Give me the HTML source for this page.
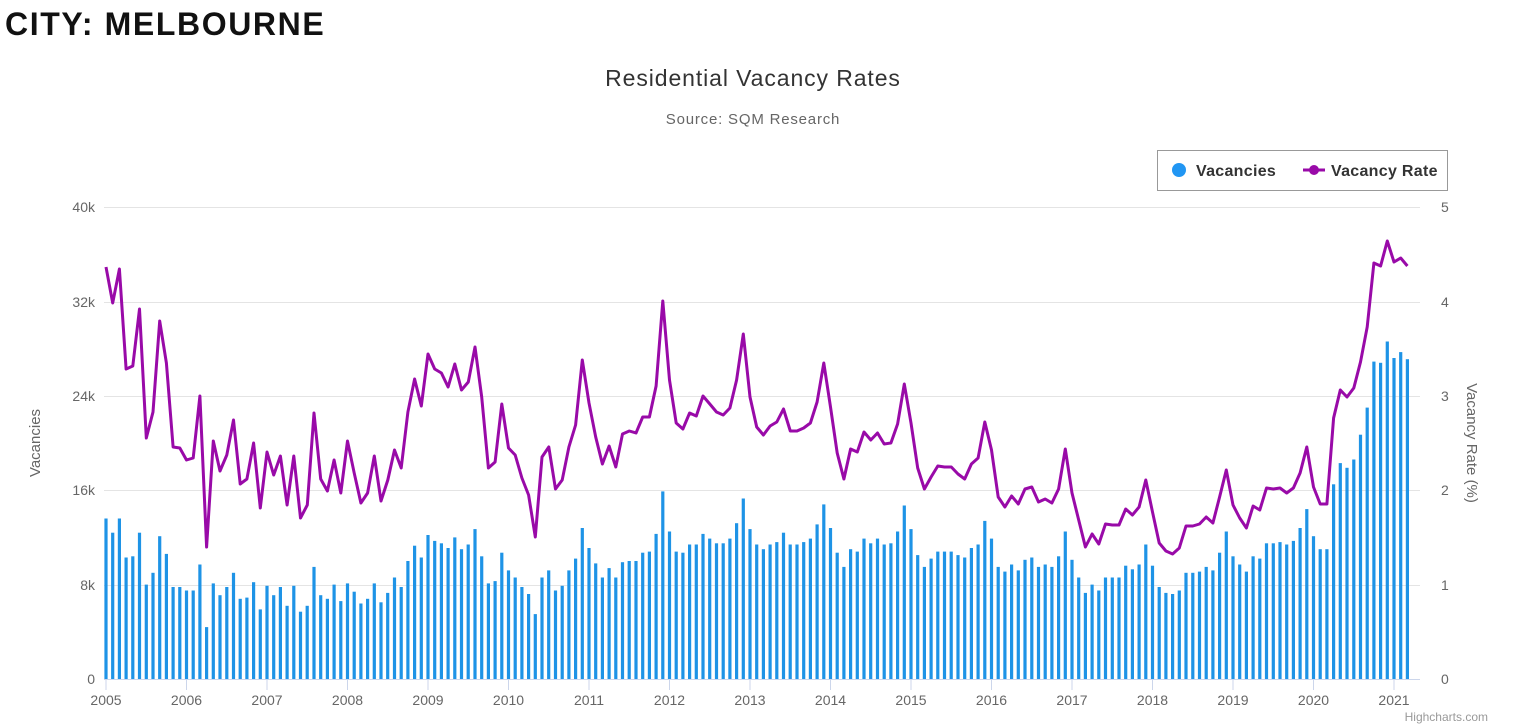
<!DOCTYPE html>
<html><head><meta charset="utf-8">
<style>
html,body{margin:0;padding:0;background:#fff;}
body{width:1536px;height:727px;overflow:hidden;position:relative;font-family:"Liberation Sans",sans-serif;}
</style></head>
<body>
<svg id="c" width="1536" height="727" xmlns="http://www.w3.org/2000/svg" style="position:absolute;left:0;top:0">
<text x="5" y="35" font-size="32" font-weight="bold" fill="#111" letter-spacing="1.6" font-family="Liberation Sans, sans-serif">CITY: MELBOURNE</text>
<text x="753" y="86" font-size="23" fill="#333" text-anchor="middle" letter-spacing="0.9">Residential Vacancy Rates</text>
<text x="753" y="124" font-size="15" fill="#666" text-anchor="middle" letter-spacing="0.8">Source: SQM Research</text>
<rect x="1157.5" y="150.5" width="290" height="40" fill="#fff" stroke="#999" stroke-width="1"/>
<circle cx="1179" cy="170" r="7" fill="#2196f3"/>
<text x="1196" y="176" font-size="16" font-weight="bold" fill="#333" letter-spacing="0.3">Vacancies</text>
<line x1="1303" y1="170" x2="1325" y2="170" stroke="#990aa8" stroke-width="3"/>
<circle cx="1314" cy="170" r="5" fill="#990aa8"/>
<text x="1331" y="176" font-size="16" font-weight="bold" fill="#333" letter-spacing="0.3">Vacancy Rate</text>
<g stroke="#e4e4e4" stroke-width="1">
<line x1="104" y1="207.5" x2="1420" y2="207.5"/>
<line x1="104" y1="302.5" x2="1420" y2="302.5"/>
<line x1="104" y1="396.5" x2="1420" y2="396.5"/>
<line x1="104" y1="490.5" x2="1420" y2="490.5"/>
<line x1="104" y1="585.5" x2="1420" y2="585.5"/>
</g>
<line x1="104" y1="679.5" x2="1420" y2="679.5" stroke="#ccd6eb" stroke-width="1"/>
<g font-size="14" fill="#666" text-anchor="end">
<text x="95" y="212">40k</text><text x="95" y="307">32k</text><text x="95" y="401">24k</text>
<text x="95" y="495">16k</text><text x="95" y="590">8k</text><text x="95" y="684">0</text>
</g>
<g font-size="14" fill="#666">
<text x="1441" y="212">5</text><text x="1441" y="307">4</text><text x="1441" y="401">3</text>
<text x="1441" y="495">2</text><text x="1441" y="590">1</text><text x="1441" y="684">0</text>
</g>
<text transform="translate(40,443) rotate(-90)" font-size="15" fill="#666" text-anchor="middle">Vacancies</text>
<text transform="translate(1467,443) rotate(90)" font-size="15" fill="#666" text-anchor="middle">Vacancy Rate (%)</text>
<g id="xl" font-size="14" fill="#666" text-anchor="middle"></g>
<g id="bars" fill="#1e93e6"></g>
<polyline id="ln" fill="none" stroke="#990aa8" stroke-width="3" stroke-linejoin="round"/>
<text x="1488" y="721" font-size="12" fill="#999" text-anchor="end">Highcharts.com</text>
</svg>
<script>
var k=[13.6,12.4,13.6,10.3,10.4,12.4,8.0,9.0,12.1,10.6,7.8,7.8,
7.5,7.5,9.7,4.4,8.1,7.1,7.8,9.0,6.8,6.9,8.2,5.9,
7.9,7.1,7.8,6.2,7.9,5.7,6.2,9.5,7.1,6.8,8.0,6.6,
8.1,7.4,6.4,6.8,8.1,6.5,7.3,8.6,7.8,10.0,11.3,10.3,
12.2,11.7,11.5,11.1,12.0,11.0,11.4,12.7,10.4,8.1,8.3,10.7,
9.2,8.6,7.8,7.2,5.5,8.6,9.2,7.5,7.9,9.2,10.2,12.8,
11.1,9.8,8.6,9.4,8.6,9.9,10.0,10.0,10.7,10.8,12.3,15.9,
12.5,10.8,10.7,11.4,11.4,12.3,11.9,11.5,11.5,11.9,13.2,15.3,
12.7,11.4,11.0,11.4,11.6,12.4,11.4,11.4,11.6,11.9,13.1,14.8,
12.8,10.7,9.5,11.0,10.8,11.9,11.5,11.9,11.4,11.5,12.5,14.7,
12.7,10.5,9.5,10.2,10.8,10.8,10.8,10.5,10.3,11.1,11.4,13.4,
11.9,9.5,9.1,9.7,9.2,10.1,10.3,9.5,9.7,9.5,10.4,12.5,
10.1,8.6,7.3,8.0,7.5,8.6,8.6,8.6,9.6,9.3,9.7,11.4,
9.6,7.8,7.3,7.2,7.5,9.0,9.0,9.1,9.5,9.2,10.7,12.5,
10.4,9.7,9.1,10.4,10.2,11.5,11.5,11.6,11.4,11.7,12.8,14.4,
12.1,11.0,11.0,16.5,18.3,17.9,18.6,20.7,23.0,26.9,26.8,28.6,
27.2,27.7,27.1];
var ly=[267,303,269,369,366,309,438,412,321,363,447,448,
460,458,396,547,441,471,455,420,484,479,443,508,
452,475,456,505,456,518,505,413,479,491,460,493,
441,473,503,493,456,501,480,450,468,412,379,406,
354,369,373,387,364,390,382,347,397,468,462,404,
448,455,478,495,537,457,447,489,480,447,425,360,
403,437,464,446,467,434,431,433,417,417,386,301,
380,423,429,413,416,396,404,412,415,408,380,334,
397,427,435,426,422,409,431,431,428,423,402,363,
407,453,479,449,452,432,440,433,444,443,424,384,
423,468,489,477,466,467,467,474,479,464,458,422,
450,497,507,496,504,489,487,502,499,503,489,449,
493,520,547,534,544,524,525,525,509,515,507,480,
512,543,551,554,548,526,526,524,517,523,497,470,
505,518,528,506,510,488,489,488,493,488,473,447,
487,504,504,418,390,397,388,362,327,263,266,241,
262,258,266];
var S=80.5/12,x0=106,b='',p=[];
for(var i=0;i<k.length;i++){var x=x0+i*S,y=679-k[i]*11.8;
b+='<rect x="'+(x-1.6).toFixed(1)+'" y="'+y.toFixed(1)+'" width="3.2" height="'+(679-y).toFixed(1)+'"/>';
p.push(x.toFixed(1)+','+ly[i]);}
document.getElementById('bars').innerHTML=b;
document.getElementById('ln').setAttribute('points',p.join(' '));
var t='';for(var yr=2005;yr<=2021;yr++){var x=x0+(yr-2005)*80.5;
t+='<text x="'+x+'" y="705">'+yr+'</text><line x1="'+x+'" y1="680" x2="'+x+'" y2="690" stroke="#ccd6eb"/>';}
document.getElementById('xl').innerHTML=t;
</script>
</body></html>
